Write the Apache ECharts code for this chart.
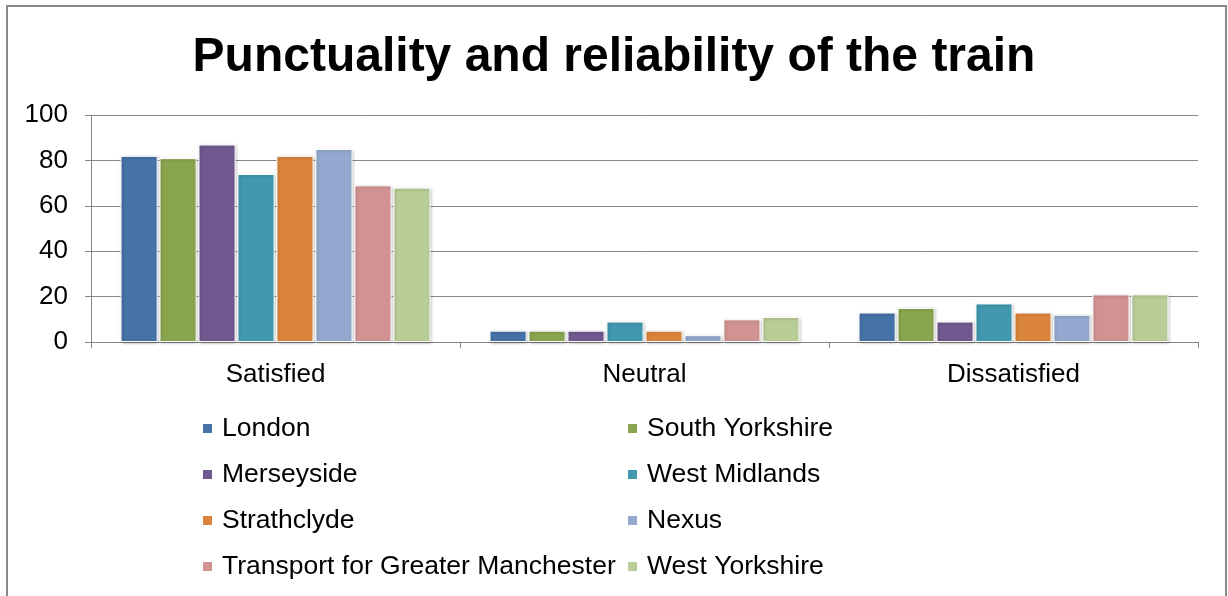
<!DOCTYPE html>
<html><head><meta charset="utf-8">
<script src="https://cdn.jsdelivr.net/npm/echarts@6/dist/echarts.min.js"></script>
<style>html,body{margin:0;padding:0;background:#fff;}#c{width:1228px;height:596px;}</style>
</head><body><div id="c"></div>
<script>
const categories = ['Satisfied', 'Neutral', 'Dissatisfied'];
const seriesNames = ['London', 'South Yorkshire', 'Merseyside', 'West Midlands', 'Strathclyde', 'Nexus', 'Transport for Greater Manchester', 'West Yorkshire'];
const london = [82, 5, 13];
const southYorkshire = [81, 5, 15];
const merseyside = [87, 5, 9];
const westMidlands = [74, 9, 17];
const strathclyde = [82, 5, 13];
const nexus = [85, 3, 12];
const tfgm = [69, 10, 21];
const westYorkshire = [68, 11, 21];
const values = [london, southYorkshire, merseyside, westMidlands, strathclyde, nexus, tfgm, westYorkshire];
const colors = ['#4572A7', '#89A54E', '#71588F', '#4198AF', '#DB843D', '#93A9CF', '#D19392', '#B9CD96'];
const yTicks = [0, 20, 40, 60, 80, 100];

const font = 'Liberation Sans, Arial, sans-serif';
const chart = echarts.init(document.getElementById('c'));
const legendBase = {
  orient: 'vertical', icon: 'rect', itemWidth: 11, itemHeight: 11, itemGap: 19,
  textStyle: {fontFamily: font, fontSize: 26.5, color: '#000', lineHeight: 26, height: 26, padding: [0,0,0,4]},
  selectedMode: false
};
chart.setOption({
  animation: false,
  color: colors,
  title: {
    text: 'Punctuality and reliability of the train', left: 'center', top: 29,
    textStyle: {fontFamily: font, fontSize: 48, fontWeight: 'bold', color: '#000'}
  },
  graphic: [{type: 'rect', shape: {x: 7, y: 6, width: 1219, height: 700}, style: {fill: 'none', stroke: '#898989', lineWidth: 2}, silent: true}],
  legend: [
    Object.assign({}, legendBase, {left: 196, top: 410, data: [seriesNames[0], seriesNames[2], seriesNames[4], seriesNames[6]]}),
    Object.assign({}, legendBase, {left: 621, top: 410, data: [seriesNames[1], seriesNames[3], seriesNames[5], seriesNames[7]]})
  ],
  grid: {left: 91, right: 30, top: 115, bottom: 254, containLabel: false},
  xAxis: {
    type: 'category', data: categories,
    axisLine: {lineStyle: {color: '#868686', width: 1}},
    axisTick: {show: true, length: 6, lineStyle: {color: '#868686'}},
    axisLabel: {fontFamily: font, fontSize: 26, color: '#000', margin: 20}
  },
  yAxis: {
    type: 'value', min: 0, max: 100, interval: 20,
    axisLine: {show: true, lineStyle: {color: '#868686'}},
    axisTick: {show: true, length: 6, lineStyle: {color: '#868686'}},
    axisLabel: {fontFamily: font, fontSize: 26, color: '#000', margin: 23,
      formatter: v => yTicks.includes(v) ? String(v) : ''},
    splitLine: {lineStyle: {color: '#868686', width: 1}}
  },
  series: seriesNames.map((n, i) => ({
    name: n, type: 'bar', data: values[i],
    barCategoryGap: '16%', barGap: '5%',
    itemStyle: {color: colors[i], borderColor: '#fff', borderWidth: 1,
      shadowBlur: 3, shadowColor: 'rgba(0,0,0,0.25)', shadowOffsetX: 1, shadowOffsetY: 1}
  }))
});
</script></body></html>
